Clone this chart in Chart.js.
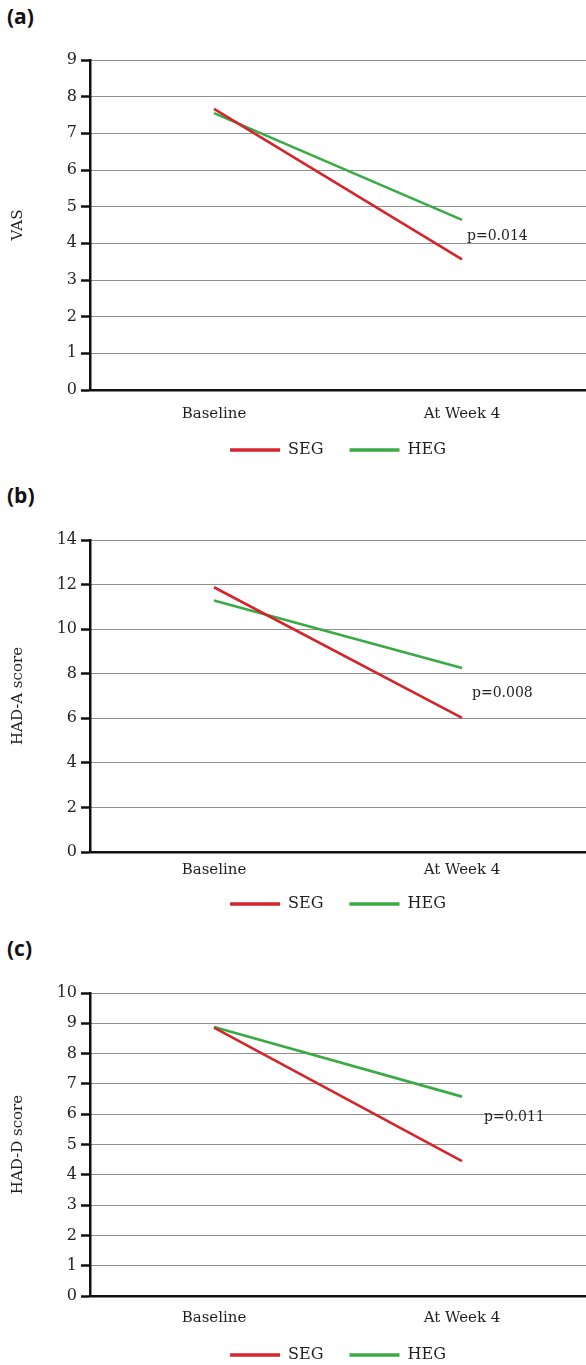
<!DOCTYPE html>
<html>
<head>
<meta charset="utf-8">
<script src="https://cdn.jsdelivr.net/npm/chart.js@4/dist/chart.umd.min.js"></script>
<style>
  html, body { margin: 0; padding: 0; background: #fff; width: 586px; height: 1365px; overflow: hidden; }
  .panel-label { position: absolute; left: 7px; font-family: "Open Sans", "Liberation Sans", sans-serif; font-weight: 700; font-size: 21px; line-height: 1; color: #111; }
  .box { position: absolute; left: 0; width: 586px; }
</style>
</head>
<body>
<div class="panel-label" style="top:6px">(a)</div>
<div class="panel-label" style="top:485px">(b)</div>
<div class="panel-label" style="top:938px">(c)</div>
<div class="box" id="boxA"><canvas id="chartA"></canvas></div>
<div class="box" id="boxB"><canvas id="chartB"></canvas></div>
<div class="box" id="boxC"><canvas id="chartC"></canvas></div>
<script>
// ---- data ----
const categories = ['Baseline', 'At Week 4'];
const seriesNames = ['SEG', 'HEG'];
const vasSEG = [7.67, 3.56];
const vasHEG = [7.55, 4.64];
const hadaSEG = [11.88, 6.02];
const hadaHEG = [11.28, 8.26];
const haddSEG = [8.86, 4.45];
const haddHEG = [8.88, 6.58];
const pLabels = ['p=0.014', 'p=0.008', 'p=0.011'];
const pLabelY = [4.18, 7.12, 5.88];
const yTitles = ['VAS', 'HAD-A score', 'HAD-D score'];
const yMaxes = [9, 14, 10];
const ySteps = [1, 2, 1];

// ---- styling ----
const RED = '#d4252d';
const GREEN = '#3aaa45';
const INK = '#231f20';
Chart.defaults.font.family = '"DejaVu Serif", serif';
Chart.defaults.color = INK;

const pLabelPlugin = {
  id: 'pLabel',
  afterDatasetsDraw(chart, args, opts) {
    const {ctx, scales} = chart;
    const x = scales.x.getPixelForValue(1) + opts.dx;
    const y = scales.y.getPixelForValue(opts.value);
    ctx.save();
    ctx.font = '14px "DejaVu Serif", serif';
    ctx.fillStyle = INK;
    ctx.textAlign = 'left';
    ctx.textBaseline = 'middle';
    ctx.fillText(opts.text, x, y);
    ctx.restore();
  }
};

function makePanel(boxId, canvasId, idx, seg, heg, cfg) {
  const box = document.getElementById(boxId);
  box.style.top = cfg.top + 'px';
  box.style.height = cfg.height + 'px';
  new Chart(document.getElementById(canvasId), {
    type: 'line',
    data: {
      labels: categories,
      datasets: [
        { label: seriesNames[0], data: seg, borderColor: RED, backgroundColor: RED, borderWidth: 2.6, pointRadius: 0, pointStyle: 'line', tension: 0 },
        { label: seriesNames[1], data: heg, borderColor: GREEN, backgroundColor: GREEN, borderWidth: 2.6, pointRadius: 0, pointStyle: 'line', tension: 0 }
      ]
    },
    options: {
      responsive: true,
      maintainAspectRatio: false,
      animation: false,
      events: [],
      layout: { padding: { top: 15, right: 0, left: 0, bottom: 0 } },
      scales: {
        x: {
          type: 'category',
          offset: true,
          grid: { display: false },
          border: { display: true, color: '#111', width: 2.5 },
          ticks: { padding: cfg.xPad, font: { size: 15 }, color: INK, maxRotation: 0 },
          afterFit(scale) {
            scale.height = cfg.xH;
            scale._computeLabelArea = function () { return undefined; };
          }
        },
        y: {
          min: 0,
          max: yMaxes[idx],
          ticks: { stepSize: ySteps[idx], padding: 4, font: { size: 16 }, color: INK },
          grid: { display: true, color: '#1e1e1e', lineWidth: 1, drawTicks: true, tickLength: 9, tickColor: '#111', tickWidth: 2.5, tickBorderDash: [] },
          border: { display: true, color: '#111', width: 2.5, dash: [1, 1] },
          title: { display: true, text: yTitles[idx], font: { size: 15 }, color: INK, padding: { top: 9, bottom: 0 } },
          afterFit(scale) { scale.width = 90; }
        }
      },
      plugins: {
        legend: {
          position: 'bottom',
          fullSize: false,
          labels: {
            usePointStyle: true,
            pointStyle: 'line',
            pointStyleWidth: 50,
            boxHeight: 16,
            padding: 26,
            font: { size: 16 },
            color: INK,
            generateLabels(chart) {
              return chart.data.datasets.map((d, i) => ({
                text: d.label, strokeStyle: d.borderColor, fillStyle: d.borderColor,
                lineWidth: 3.5, pointStyle: 'line', hidden: false, datasetIndex: i, fontColor: INK
              }));
            }
          }
        },
        tooltip: { enabled: false },
        pLabel: { text: pLabels[idx], value: pLabelY[idx], dx: cfg.dx }
      }
    },
    plugins: [pLabelPlugin]
  });
}

makePanel('boxA', 'chartA', 0, vasSEG, vasHEG, { top: 45, height: 423, xH: 26, xPad: 7, dx: 5 });
makePanel('boxB', 'chartB', 1, hadaSEG, hadaHEG, { top: 525, height: 397, xH: 18, xPad: 1, dx: 10 });
makePanel('boxC', 'chartC', 2, haddSEG, haddHEG, { top: 978, height: 395, xH: 25, xPad: 5, dx: 22 });
</script>
</body>
</html>
